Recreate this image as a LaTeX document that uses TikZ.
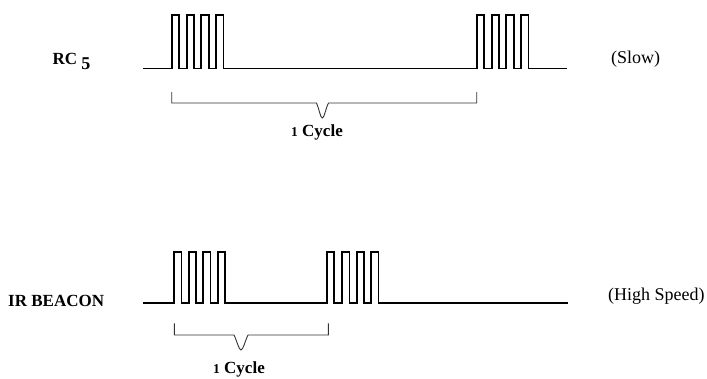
\documentclass[tikz,border=0pt]{standalone}
\usepackage{fontspec}
\setmainfont{Liberation Serif}
% old-style looking figures: a lowered five, a short one
\newcommand{\lowfive}{\raisebox{-5pt}{\fontsize{18}{20}\selectfont 5}}
\newcommand{\shortone}{{\fontsize{13.5}{15}\selectfont 1}}
\begin{document}
\begin{tikzpicture}[x=1pt,y=-1pt,
  wave/.style={line width=1.8pt,line join=miter,black},
  brace/.style={line width=0.9pt,black!80},
  tag/.style={inner sep=0pt,anchor=base west,font=\fontsize{17}{19}\selectfont\bfseries},
  speed/.style={inner sep=0pt,anchor=base west,font=\fontsize{18}{20}\selectfont},
  cyc/.style={inner sep=0pt,anchor=base,font=\fontsize{17}{19}\selectfont\bfseries}]
\useasboundingbox (0,0) rectangle (707,378);

% RC5 frame: two bursts of four pulses, long gap
\draw[wave] (143,68.5)
  foreach \x in {171.7,186.7,201.3,216} { -- (\x,68.5) -- (\x,15) -- (\x+7.5,15) -- (\x+7.5,68.5) }
  foreach \x in {476.7,491.7,506.3,521} { -- (\x,68.5) -- (\x,15) -- (\x+7.5,15) -- (\x+7.5,68.5) }
  -- (567,68.5);

% one-cycle brace under the RC5 frame
\draw[brace] (171.7,92) -- (171.7,103) -- (316.5,103)
  .. controls (319,108) and (320.3,118) .. (322.3,118)
  .. controls (324.3,118) and (325.8,108) .. (328.5,103)
  -- (476.7,103) -- (476.7,92);

% IR beacon frame: bursts repeat at a much shorter interval
\draw[wave] (143,303.3)
  foreach \x in {174.3,189,203.3,217.7} { -- (\x,303.3) -- (\x,251.7) -- (\x+7.2,251.7) -- (\x+7.2,303.3) }
  foreach \x in {326.7,342.3,356.7,371.3} { -- (\x,303.3) -- (\x,251.7) -- (\x+7.2,251.7) -- (\x+7.2,303.3) }
  -- (568,303.3);

% one-cycle brace under the IR beacon frame
\draw[brace] (174.3,323.3) -- (174.3,335) -- (234,335)
  .. controls (236.5,340) and (239,350) .. (241,350)
  .. controls (243,350) and (245.5,340) .. (248,335)
  -- (328.3,335) -- (328.3,323.3);

% labels
\node[tag] (rc) at (52.3,64.3) {RC \lowfive};
\node[tag] (ir) at (8,306) {IR BEACON};
\node[speed] (slow) at (611,63.5) {(Slow)};
\node[speed] (fast) at (608,300.5) {(High Speed)};
\node[cyc] (c1) at (317,136) {\shortone\ Cycle};
\node[cyc] (c2) at (239,373.5) {\shortone\ Cycle};
\end{tikzpicture}
\end{document}
